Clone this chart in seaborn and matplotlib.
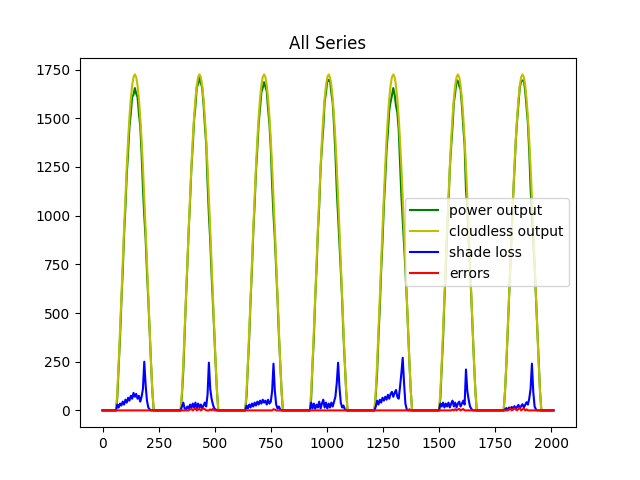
"""
All Series chart: power output vs cloudless output, shade loss and errors over 7 days.
"""

import matplotlib
matplotlib.use('Agg')
import matplotlib.pyplot as plt
import numpy as np
import pandas as pd
import seaborn as sns


STEP = 6             # sample spacing (time index units)
DAY_LEN = 288        # samples per day in the original series
N_DAYS = 7
SUN_UP, SUN_DOWN = 60, 228   # daylight window inside each day

# cloudless output over the daylight window (same every day)
cloudless_day = [0, 100, 244, 409, 583, 760, 933, 1099, 1253, 1390, 1506, 1600, 1669, 1711, 1725,
                 1711, 1669, 1600, 1506, 1390, 1253, 1099, 933, 760, 583, 409, 244, 100, 0]

# power output, one list per day
power_days = [
    [0, 70, 229, 374, 558, 715, 903, 1044, 1213, 1325, 1456, 1525, 1609, 1621, 1655,
     1626, 1609, 1525, 1461, 1320, 1143, 999, 883, 710, 568, 404, 244, 100, 0],
    [0, 80, 204, 399, 578, 740, 925, 1069, 1241, 1355, 1491, 1560, 1659, 1676, 1710,
     1681, 1659, 1575, 1466, 1370, 1173, 1004, 873, 700, 553, 399, 239, 100, 0],
    [0, 75, 234, 379, 568, 725, 913, 1059, 1228, 1345, 1476, 1550, 1634, 1656, 1685,
     1661, 1639, 1545, 1471, 1345, 1153, 1004, 883, 730, 573, 389, 239, 100, 0],
    [0, 60, 234, 374, 575, 730, 918, 1054, 1243, 1355, 1451, 1585, 1629, 1701, 1690,
     1696, 1629, 1580, 1461, 1320, 1133, 999, 873, 720, 568, 384, 239, 100, 0],
    [0, 80, 194, 379, 528, 720, 868, 1049, 1183, 1335, 1426, 1540, 1584, 1616, 1655,
     1621, 1564, 1530, 1446, 1270, 1103, 979, 863, 725, 578, 409, 244, 100, 0],
    [0, 65, 224, 369, 568, 725, 913, 1059, 1238, 1355, 1456, 1580, 1629, 1696, 1690,
     1666, 1649, 1565, 1456, 1360, 1133, 1039, 878, 740, 575, 409, 244, 100, 0],
    [0, 95, 232, 406, 568, 752, 915, 1094, 1231, 1380, 1488, 1572, 1659, 1689, 1693,
     1696, 1641, 1558, 1476, 1330, 1143, 999, 873, 740, 578, 409, 244, 100, 0],
]

# shade loss, one list per day
shade_days = [
    [0, 30, 15, 35, 25, 45, 30, 55, 40, 65, 50, 75, 60, 90, 70,
     85, 60, 75, 45, 70, 110, 250, 130, 50, 15, 5, 0, 0, 0],
    [0, 20, 40, 10, 5, 20, 8, 30, 12, 35, 15, 40, 10, 35, 15,
     30, 10, 25, 40, 20, 80, 245, 110, 60, 30, 10, 5, 0, 0],
    [0, 25, 10, 30, 15, 35, 20, 40, 25, 45, 30, 50, 35, 55, 40,
     50, 30, 55, 35, 45, 100, 240, 100, 30, 10, 20, 5, 0, 0],
    [0, 40, 10, 35, 8, 30, 15, 45, 10, 35, 55, 15, 40, 10, 35,
     15, 40, 20, 45, 70, 140, 245, 120, 40, 15, 25, 5, 0, 0],
    [0, 20, 50, 30, 55, 40, 65, 50, 70, 55, 80, 60, 85, 95, 70,
     90, 105, 70, 60, 120, 190, 270, 140, 35, 5, 0, 0, 0, 0],
    [0, 35, 20, 40, 15, 35, 20, 40, 15, 35, 50, 20, 40, 15, 35,
     45, 20, 35, 50, 30, 210, 100, 55, 20, 8, 0, 0, 0, 0],
    [0, 5, 12, 3, 15, 8, 18, 5, 22, 10, 18, 28, 10, 22, 32,
     15, 28, 42, 30, 60, 110, 240, 95, 20, 5, 0, 0, 0, 0],
]

# errors, one list per day
error_days = [
    [0, 0, 0, 0, 0, 0, 0, 0, 0, 0, 0, 0, 0, 0, 0, 0, 0, 0, 0, 0, 0, 0, 0, 0, 0, 0, 0, 0, 0],
    [0, 0, 0, 0, 0, 0, 0, 5, 8, 0, 6, 10, 0, 4, 8, 0, 5, 10, 6, 0, 0, 0, 5, 0, 8, 0, 0, 0, 0],
    [0, 0, 0, 0, 0, 0, 0, 0, 0, 0, 0, 0, 0, 0, 0, 0, 0, 0, 0, 0, 0, 6, 4, 0, 0, 0, 0, 0, 0],
    [0, 0, 0, 0, 0, 0, 0, 0, 0, 0, 0, 0, 0, 0, 0, 0, 0, 0, 0, 0, 0, 0, 0, 0, 0, 0, 0, 0, 0],
    [0, 0, 0, 0, 0, 0, 0, 0, 0, 0, 0, 0, 0, 0, 0, 0, 0, 0, 0, 0, 0, 0, 0, 0, 0, 0, 6, 0, 0],
    [0, 0, 0, 0, 0, 0, 0, 0, 0, 0, 4, 0, 6, 0, 5, 8, 0, 4, 7, 0, 0, 0, 0, 0, 0, 0, 0, 0, 0],
    [0, 0, 0, 0, 4, 8, 0, 6, 10, 5, 0, 8, 12, 0, 6, 9, 0, 5, 0, 0, 0, 0, 0, 0, 0, 0, 0, 0, 0],
]

SERIES = [
    ('power output', 'g'),
    ('cloudless output', 'y'),
    ('shade loss', 'b'),
    ('errors', 'r'),
]


def full_series(day_lists):
    # night samples are zero, daylight samples come from the lists
    per_day = DAY_LEN // STEP
    lo, hi = SUN_UP // STEP, SUN_DOWN // STEP
    out = np.zeros(per_day * N_DAYS)
    for d, vals in enumerate(day_lists):
        out[d * per_day + lo: d * per_day + hi + 1] = vals
    return out


def main():
    t = np.arange(0, DAY_LEN * N_DAYS, STEP)
    df = pd.DataFrame({
        't': t,
        'power output': full_series(power_days),
        'cloudless output': full_series([cloudless_day] * N_DAYS),
        'shade loss': full_series(shade_days),
        'errors': full_series(error_days),
    })

    fig, ax = plt.subplots(figsize=(6.4, 4.8), dpi=100)
    for name, color in SERIES:
        sns.lineplot(data=df, x='t', y=name, color=color, label=name, ax=ax, linewidth=1.5)

    ax.set_title('All Series')
    ax.set_xlabel('')
    ax.set_ylabel('')
    ax.legend(loc='center right')

    plt.savefig('out.png', dpi=100)
    plt.close()


if __name__ == "__main__":
    main()
